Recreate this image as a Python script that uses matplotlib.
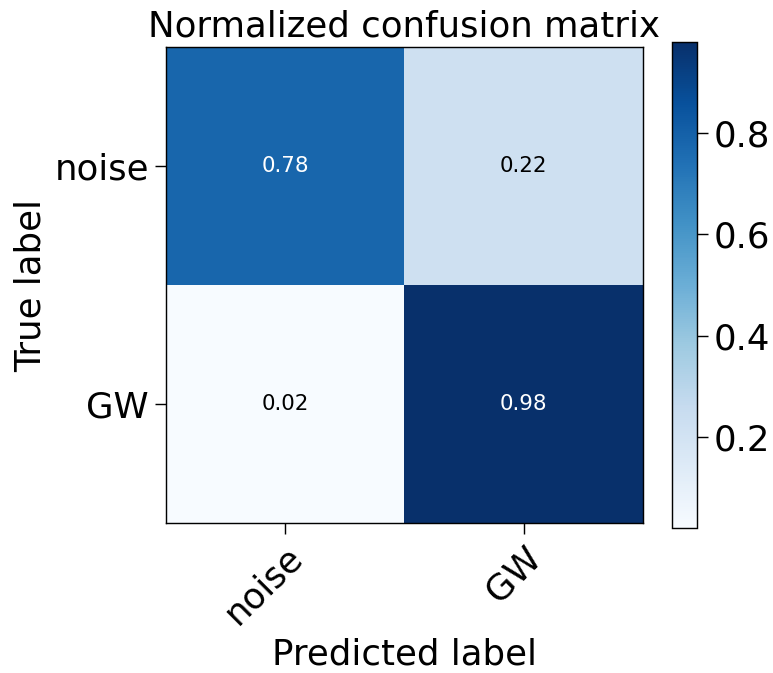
import numpy as np
import matplotlib
matplotlib.use("Agg")
import matplotlib.pyplot as plt

classes = ["noise", "GW"]
cm = np.array([[0.78, 0.22],
               [0.02, 0.98]])

DPI = 128
W, H = 773, 673
plt.rcParams['font.size'] = 20
fig = plt.figure(figsize=(W / DPI, H / DPI), dpi=DPI)
ax = fig.add_axes([166/W, 1-523/H, (643-166)/W, (523-47)/H])
cax = fig.add_axes([672/W, 1-528/H, 25/W, (528-42)/H])
im = ax.imshow(cm, interpolation='nearest', cmap=plt.cm.Blues, aspect='auto')
ax.set_title("Normalized confusion matrix", fontsize=20)
cb = fig.colorbar(im, cax=cax)
cb.ax.tick_params(labelsize=20, length=6)
cb.outline.set_linewidth(0.8)
ax.set_xticks(np.arange(len(classes)))
ax.set_xticklabels(classes, rotation=45, ha='right', rotation_mode='anchor', fontsize=20)
ax.set_yticks(np.arange(len(classes)))
ax.set_yticklabels(classes, fontsize=20)
ax.tick_params(length=6)
thresh = cm.max() / 2.
for i in range(cm.shape[0]):
    for j in range(cm.shape[1]):
        ax.text(j, i, format(cm[i, j], '.2f'), ha='center', va='center',
                fontsize=12, color='white' if cm[i, j] > thresh else 'black')
ax.set_ylabel('True label', fontsize=20)
ax.set_xlabel('Predicted label', fontsize=20)
fig.savefig('out.png', dpi=DPI)
